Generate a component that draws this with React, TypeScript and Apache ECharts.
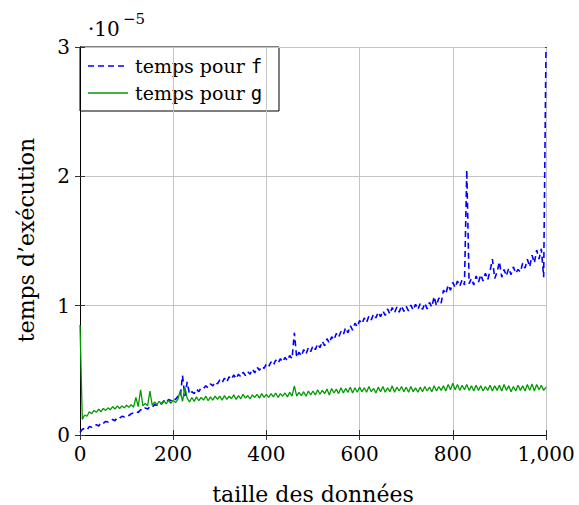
import { useEffect, useRef } from "react";
import * as echarts from "echarts";

// taille des données (x)
const sizes = [
  0, 5, 10, 15, 20, 25, 30, 35, 40, 45, 50, 55, 60, 65, 70, 75, 80, 85, 90, 95,
  100, 105, 110, 115, 120, 125, 130, 135, 140, 145, 150, 155, 160, 165, 170, 175, 180, 185, 190, 195,
  200, 205, 210, 215, 220, 225, 230, 235, 240, 245, 250, 255, 260, 265, 270, 275, 280, 285, 290, 295,
  300, 305, 310, 315, 320, 325, 330, 335, 340, 345, 350, 355, 360, 365, 370, 375, 380, 385, 390, 395,
  400, 405, 410, 415, 420, 425, 430, 435, 440, 445, 450, 455, 460, 465, 470, 475, 480, 485, 490, 495,
  500, 505, 510, 515, 520, 525, 530, 535, 540, 545, 550, 555, 560, 565, 570, 575, 580, 585, 590, 595,
  600, 605, 610, 615, 620, 625, 630, 635, 640, 645, 650, 655, 660, 665, 670, 675, 680, 685, 690, 695,
  700, 705, 710, 715, 720, 725, 730, 735, 740, 745, 750, 755, 760, 765, 770, 775, 780, 785, 790, 795,
  800, 805, 810, 815, 820, 825, 830, 835, 840, 845, 850, 855, 860, 865, 870, 875, 880, 885, 890, 895,
  900, 905, 910, 915, 920, 925, 930, 935, 940, 945, 950, 955, 960, 965, 970, 975, 980, 985, 990, 995,
  1000,
];

// temps pour f (×10^-5)
const tempsF = [
  0.02, 0.045, 0.05, 0.04, 0.065, 0.06, 0.075, 0.08, 0.07, 0.095, 0.09, 0.105, 0.1, 0.115, 0.12, 0.11, 0.135, 0.13, 0.145, 0.14,
  0.155, 0.15, 0.165, 0.17, 0.18, 0.175, 0.195, 0.19, 0.21, 0.2, 0.22, 0.215, 0.235, 0.23, 0.25, 0.24, 0.265, 0.25, 0.275, 0.265,
  0.285, 0.275, 0.3, 0.29, 0.46, 0.3, 0.41, 0.315, 0.335, 0.32, 0.355, 0.335, 0.365, 0.36, 0.38, 0.365, 0.395, 0.38, 0.41, 0.395,
  0.425, 0.405, 0.44, 0.41, 0.45, 0.43, 0.465, 0.435, 0.47, 0.45, 0.485, 0.46, 0.49, 0.47, 0.51, 0.48, 0.525, 0.5, 0.53, 0.515,
  0.55, 0.53, 0.565, 0.54, 0.58, 0.555, 0.59, 0.565, 0.6, 0.575, 0.615, 0.59, 0.79, 0.6, 0.64, 0.61, 0.66, 0.625, 0.675, 0.645,
  0.69, 0.66, 0.705, 0.675, 0.725, 0.69, 0.745, 0.71, 0.76, 0.735, 0.785, 0.755, 0.8, 0.775, 0.83, 0.79, 0.845, 0.81, 0.865, 0.835,
  0.885, 0.86, 0.905, 0.87, 0.92, 0.89, 0.935, 0.905, 0.95, 0.915, 0.96, 0.925, 0.975, 0.935, 0.985, 0.945, 0.99, 0.95, 1.0, 0.955,
  0.995, 0.96, 1.005, 0.965, 1.01, 0.97, 1.015, 0.97, 1.02, 0.975, 1.025, 0.99, 1.07, 1.0, 1.06, 1.02, 1.12, 1.09, 1.16, 1.12,
  1.18, 1.14, 1.19, 1.15, 1.2, 1.16, 2.05, 1.17, 1.21, 1.16, 1.23, 1.18, 1.24, 1.19, 1.25, 1.2, 1.27, 1.36, 1.21, 1.26,
  1.34, 1.22, 1.28, 1.23, 1.29, 1.24, 1.3, 1.25, 1.28, 1.26, 1.33, 1.29, 1.36, 1.3, 1.39, 1.33, 1.43, 1.36, 1.44, 1.22,
  3.0,
];

// temps pour g (×10^-5)
const tempsG = [
  0.85, 0.12, 0.155, 0.145, 0.18, 0.165, 0.19, 0.175, 0.2, 0.18, 0.205, 0.19, 0.21, 0.195, 0.22, 0.2, 0.225, 0.205, 0.225, 0.21,
  0.23, 0.215, 0.235, 0.215, 0.29, 0.22, 0.35, 0.225, 0.245, 0.225, 0.34, 0.23, 0.255, 0.235, 0.26, 0.24, 0.265, 0.24, 0.27, 0.245,
  0.27, 0.25, 0.275, 0.34, 0.26, 0.37, 0.285, 0.255, 0.29, 0.26, 0.295, 0.265, 0.29, 0.27, 0.3, 0.265, 0.295, 0.27, 0.3, 0.275,
  0.3, 0.27, 0.305, 0.275, 0.3, 0.28, 0.31, 0.275, 0.305, 0.28, 0.315, 0.285, 0.305, 0.28, 0.31, 0.29, 0.315, 0.285, 0.32, 0.29,
  0.315, 0.29, 0.32, 0.295, 0.325, 0.29, 0.32, 0.3, 0.325, 0.295, 0.33, 0.3, 0.38, 0.3, 0.33, 0.305, 0.335, 0.3, 0.34, 0.31,
  0.34, 0.31, 0.35, 0.315, 0.345, 0.32, 0.355, 0.31, 0.36, 0.325, 0.355, 0.32, 0.365, 0.325, 0.36, 0.33, 0.37, 0.325, 0.365, 0.33,
  0.37, 0.335, 0.365, 0.33, 0.375, 0.335, 0.36, 0.325, 0.37, 0.335, 0.375, 0.33, 0.365, 0.335, 0.38, 0.33, 0.37, 0.34, 0.375, 0.335,
  0.37, 0.33, 0.375, 0.335, 0.365, 0.33, 0.37, 0.335, 0.375, 0.34, 0.37, 0.335, 0.38, 0.34, 0.375, 0.345, 0.38, 0.34, 0.39, 0.35,
  0.4, 0.35, 0.39, 0.345, 0.385, 0.35, 0.39, 0.345, 0.38, 0.34, 0.385, 0.345, 0.38, 0.34, 0.375, 0.345, 0.385, 0.34, 0.38, 0.345,
  0.385, 0.34, 0.39, 0.345, 0.38, 0.335, 0.375, 0.34, 0.385, 0.345, 0.38, 0.34, 0.39, 0.345, 0.395, 0.34, 0.39, 0.35, 0.385, 0.345,
  0.37,
];

const yTicks = [0, 1, 2, 3];
const xTicks = [0, 200, 400, 600, 800, 1000];

const serif = "DejaVu Serif";
const mono = "DejaVu Sans Mono";

export default function App() {
  const ref = useRef<HTMLDivElement>(null);

  useEffect(() => {
    if (!ref.current) return;
    const chart = echarts.init(ref.current, null, { renderer: "svg" });
    const dataF = sizes.map((x, i) => [x, tempsF[i]]);
    const dataG = sizes.map((x, i) => [x, tempsG[i]]);
    const tickStyle = { show: true, inside: true, length: 5, lineStyle: { color: "#333", width: 1 } };
    const axisLineStyle = { show: true, lineStyle: { color: "#000", width: 1 } };

    chart.setOption({
      animation: false,
      grid: { left: 80, top: 47, right: 33, bottom: 70, containLabel: false },
      xAxis: [
        {
          type: "value",
          min: xTicks[0],
          max: xTicks[xTicks.length - 1],
          interval: 200,
          position: "bottom",
          axisLine: axisLineStyle,
          axisTick: tickStyle,
          splitLine: { show: true, lineStyle: { color: "#c4c4c4", width: 1 } },
          axisLabel: {
            margin: 9,
            color: "#000",
            fontFamily: serif,
            fontSize: 20,
            formatter: (v: number) => v.toLocaleString("en-US"),
          },
        },
        {
          type: "value",
          min: xTicks[0],
          max: xTicks[xTicks.length - 1],
          interval: 200,
          position: "top",
          axisLine: axisLineStyle,
          axisTick: tickStyle,
          splitLine: { show: false },
          axisLabel: { show: false },
        },
      ],
      yAxis: [
        {
          type: "value",
          min: yTicks[0],
          max: yTicks[yTicks.length - 1],
          interval: 1,
          position: "left",
          axisLine: axisLineStyle,
          axisTick: tickStyle,
          splitLine: { show: true, lineStyle: { color: "#c4c4c4", width: 1 } },
          axisLabel: { margin: 10, color: "#000", fontFamily: serif, fontSize: 20 },
        },
        {
          type: "value",
          min: yTicks[0],
          max: yTicks[yTicks.length - 1],
          interval: 1,
          position: "right",
          axisLine: axisLineStyle,
          axisTick: tickStyle,
          splitLine: { show: false },
          axisLabel: { show: false },
        },
      ],
      series: [
        {
          name: "temps pour f",
          type: "line",
          data: dataF,
          showSymbol: false,
          symbol: "none",
          lineStyle: { color: "#0000ff", width: 1.6, type: [6, 4] },
          z: 2,
        },
        {
          name: "temps pour g",
          type: "line",
          data: dataG,
          showSymbol: false,
          symbol: "none",
          lineStyle: { color: "#009a00", width: 1.3 },
          z: 3,
        },
      ],
      graphic: [
        {
          type: "text",
          x: 88,
          y: 29,
          style: { text: "·10", font: `20px "${serif}"`, fill: "#000", verticalAlign: "middle" },
        },
        {
          type: "text",
          x: 123,
          y: 19,
          style: { text: "−5", font: `15px "${serif}"`, fill: "#000", verticalAlign: "middle" },
        },
        {
          type: "text",
          x: 313,
          y: 494,
          style: { text: "taille des données", font: `22px "${serif}"`, fill: "#000", align: "center", verticalAlign: "middle" },
        },
        {
          type: "text",
          x: 26,
          y: 240,
          rotation: Math.PI / 2,
          style: { text: "temps d’exécution", font: `22px "${serif}"`, fill: "#000", align: "center", verticalAlign: "middle" },
        },
        {
          type: "group",
          z: 100,
          children: [
            {
              type: "rect",
              shape: { x: 80, y: 47, width: 199, height: 64 },
              style: { fill: "#fff", stroke: "#000", lineWidth: 1 },
            },
            {
              type: "line",
              shape: { x1: 88, y1: 66, x2: 128, y2: 66 },
              style: { stroke: "#0000ff", lineWidth: 1.6, lineDash: [6, 4] },
            },
            {
              type: "text",
              x: 135,
              y: 66,
              style: {
                text: "{a|temps pour }{b|f}",
                verticalAlign: "middle",
                rich: {
                  a: { fontFamily: serif, fontSize: 19, fill: "#000", color: "#000" },
                  b: { fontFamily: mono, fontSize: 19, fill: "#000", color: "#000" },
                },
              },
            },
            {
              type: "line",
              shape: { x1: 88, y1: 93, x2: 128, y2: 93 },
              style: { stroke: "#009a00", lineWidth: 1.3 },
            },
            {
              type: "text",
              x: 135,
              y: 93,
              style: {
                text: "{a|temps pour }{b|g}",
                verticalAlign: "middle",
                rich: {
                  a: { fontFamily: serif, fontSize: 19, fill: "#000", color: "#000" },
                  b: { fontFamily: mono, fontSize: 19, fill: "#000", color: "#000" },
                },
              },
            },
          ],
        },
      ],
    });
    return () => chart.dispose();
  }, []);

  return (
    <div
      ref={ref}
      style={{ position: "absolute", left: 0, top: 0, width: 579, height: 505 }}
    />
  );
}
